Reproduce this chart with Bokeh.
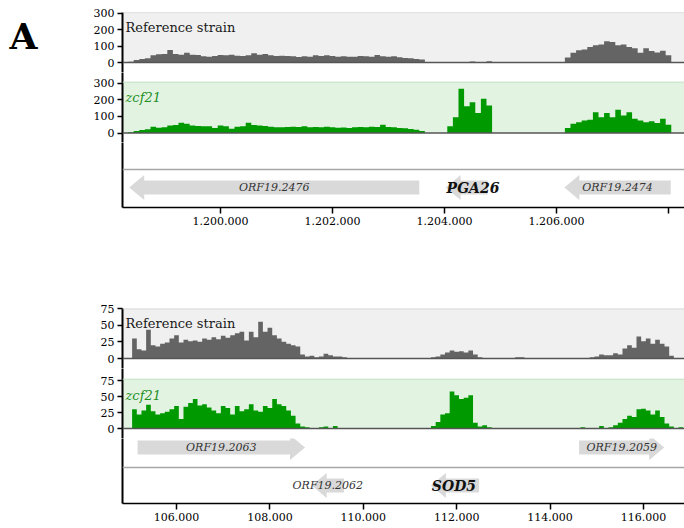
import numpy as np
from bokeh.plotting import figure
from bokeh.layouts import column, row
from bokeh.models import Range1d, BoxAnnotation, Span, Label, FixedTicker, ColumnDataSource
from bokeh.embed import file_html
from bokeh.resources import INLINE
from bokeh.core.properties import value

# ---------------- data: upper locus (PGA26) ----------------
top_bin_start = 1198250
top_bin_width = 100
top_ref = [3, 5, 15, 22, 26, 45, 50, 52, 76, 52, 48, 60, 48, 46, 38, 36, 40, 46, 44, 48,
           42, 40, 44, 56, 48, 52, 44, 40, 42, 40, 38, 34, 38, 36, 44, 40, 45, 40, 36, 38,
           35, 36, 40, 38, 36, 46, 38, 36, 38, 32, 28, 26, 22, 18,
           0, 0, 0, 0, 0, 0, 0, 0, 6, 0, 0, 8, 0, 0, 0, 0, 0, 0, 0, 0, 0, 0, 0, 0, 0,
           30, 60, 75, 80, 95, 105, 110, 130, 125, 105, 110, 95, 88, 60, 88, 70, 62, 72, 45,
           0, 0, 0]
top_zcf = [0, 5, 12, 18, 22, 38, 32, 35, 45, 48, 62, 55, 45, 42, 40, 40, 30, 45, 40, 25,
           38, 40, 62, 48, 45, 42, 38, 35, 34, 36, 38, 36, 40, 34, 36, 35, 38, 34, 32, 33,
           30, 34, 36, 35, 38, 36, 50, 36, 34, 30, 28, 24, 20, 12,
           0, 0, 0, 0,
           40, 95, 265, 160, 185, 120, 205, 165,
           0, 0, 0, 0, 0, 0, 0, 0, 0, 0, 0, 0, 0,
           30, 55, 65, 75, 80, 125, 95, 120, 95, 140, 105, 125, 85, 75, 65, 70, 60, 85, 50,
           0, 0, 0]
top_ticks = [1200000, 1202000, 1204000, 1206000, 1208000]
top_tick_labels = ["1.200.000", "1.202.000", "1.204.000", "1.206.000", ""]
top_gene_names = ["ORF19.2476", "PGA26", "ORF19.2474"]
top_gene_start = [1198370, 1204020, 1206140]
top_gene_end = [1203550, 1204770, 1208040]
top_gene_strand = ["-", "-", "-"]
top_gene_row = [0, 0, 0]

# ---------------- data: lower locus (SOD5) ----------------
bot_bin_start = 104850
bot_bin_width = 100
bot_ref = [0, 0,
           30, 14, 12, 43, 20, 18, 22, 24, 30, 35,
           24, 28, 26, 27, 25, 30, 28, 32, 29, 34,
           31, 35, 38, 40, 27, 40, 32, 55, 40, 46,
           35, 30, 25, 22, 20, 18, 6, 3, 4, 2,
           3, 7, 5, 3, 3,
           2, 0, 0, 0, 0, 0, 0, 0, 0, 0, 0, 0, 0, 0, 0, 0, 0, 0, 0,
           2, 3, 6, 9, 12, 10, 11, 9, 12, 6, 2,
           0, 0, 0, 0, 0, 0, 0,
           2, 2,
           0, 0, 0, 0, 0, 0, 0, 0, 0, 0, 0, 0, 0, 0,
           2, 3, 6, 5, 5, 8, 6, 15, 20, 16, 33, 26, 30, 22, 28, 22, 18, 4,
           0, 0, 0]
bot_zcf = [0, 0,
           30, 22, 28, 37, 27, 22, 24, 26, 30, 35,
           15, 34, 40, 46, 36, 38, 33, 28, 24, 35,
           32, 22, 35, 27, 30, 38, 28, 26, 35, 32,
           46, 38, 35, 28, 20, 8, 3, 2,
           0, 0, 2, 3, 0, 4,
           0, 0, 0, 0, 0, 0, 0, 0, 0, 0, 0, 0, 0, 0, 0, 0, 0, 0, 0, 0,
           4, 10, 22, 24, 58, 52, 46, 48, 52, 9, 3, 5, 2,
           0, 0, 0, 0, 0, 0, 0, 0, 0, 0, 0, 0, 0, 0, 0, 0, 0, 0, 0,
           2, 0, 0, 0, 4, 0, 2,
           5, 9, 15, 20, 18, 30, 31, 28, 22, 28, 18, 8, 3,
           0, 2, 0]
bot_ticks = [106000, 108000, 110000, 112000, 114000, 116000]
bot_tick_labels = ["106.000", "108.000", "110.000", "112.000", "114.000", "116.000"]
bot_gene_names = ["ORF19.2063", "ORF19.2059", "ORF19.2062", "SOD5"]
bot_gene_start = [105167, 114621, 108895, 111447]
bot_gene_end = [108752, 116445, 109585, 112480]
bot_gene_strand = ["+", "+", "-", "-"]
bot_gene_row = [1, 1, 0, 0]

top_cov_ticks = [0, 100, 200, 300]
bot_cov_ticks = [0, 25, 50, 75]
panel_letter = "A"

# ---------------- style ----------------
SERIF = "DejaVu Serif"
LETTER_W = 40
W = 684 - LETTER_W
LEFT = 122 - LETTER_W
FRAME_W = W - LEFT
REF_FILL = "#646464"
ZCF_FILL = "#009900"
REF_BG = "#eff0ef"
ZCF_BG = "#e2f3e2"
REF_BG_LINE = "#c8c8c8"
ZCF_BG_LINE = "#bfe0bf"
GENE_FILL = "#d9d9d9"
ROW_LINE = "#a6a6a6"
HEAD_PX = 15
HEAD_H = 12.5
SHAFT_H = 7
ROW_STEP = 38
ROW_SEP = 18


def base_fig(xr, yr, height, top, bottom, xaxis):
    p = figure(width=W, height=height, x_range=xr, y_range=yr,
               output_backend="svg", toolbar_location=None,
               x_axis_location="below" if xaxis else None,
               min_border_left=LEFT, min_border_right=0,
               min_border_top=top, min_border_bottom=bottom,
               background_fill_color="white", border_fill_color="white")
    p.outline_line_color = None
    p.xgrid.visible = False
    p.ygrid.visible = False
    ya = p.yaxis[0]
    ya.axis_line_color = "black"
    ya.axis_line_width = 2
    ya.major_tick_line_color = "black"
    ya.major_tick_line_width = 1.5
    ya.major_tick_out = 5
    ya.major_tick_in = 0
    ya.minor_tick_out = 0
    ya.minor_tick_in = 0
    ya.major_label_text_font = SERIF
    ya.major_label_text_font_size = "11px"
    ya.major_label_text_color = "black"
    ya.major_label_standoff = 3
    return p


def track(xr, ymin, ymax, height, top, ticks, vals, bin_start, bin_w,
          fill, bg, bg_top, bg_line_at, bg_line, label, label_y, label_color, label_style):
    p = base_fig(xr, Range1d(ymin, ymax), height, top, 0, False)
    p.yaxis[0].ticker = FixedTicker(ticks=ticks)
    p.add_layout(BoxAnnotation(bottom=0, top=bg_top, fill_color=bg, fill_alpha=1,
                               line_color=None, level="underlay"))
    p.add_layout(Span(location=bg_line_at, dimension="width", line_color=bg_line, line_width=1))
    edges = bin_start + bin_w * np.arange(len(vals) + 1)
    y2 = list(vals) + [0]
    p.varea_step(x=edges, y1=np.zeros(len(edges)), y2=y2, step_mode="after",
                 fill_color=fill)
    p.add_layout(Span(location=0, dimension="width", line_color="#555555", line_width=1.5))
    p.add_layout(Label(x=xr.start, y=label_y, x_offset=3, text=label, text_font=SERIF,
                       text_font_size="13px", text_color=label_color,
                       text_font_style=label_style, text_baseline="alphabetic"))
    return p


def gene_fig(xr, ymin, ymax, height, bottom, ticks, tick_labels,
             names, starts, ends, strands, rows, n_rows):
    p = base_fig(xr, Range1d(ymin, ymax), height, 0, bottom, True)
    p.yaxis[0].ticker = FixedTicker(ticks=[])
    xa = p.xaxis[0]
    xa.ticker = FixedTicker(ticks=ticks)
    xa.major_label_overrides = {t: l for t, l in zip(ticks, tick_labels)}
    xa.axis_line_color = "black"
    xa.axis_line_width = 1.5
    xa.major_tick_line_color = "black"
    xa.major_tick_line_width = 1.5
    xa.major_tick_out = 6
    xa.major_tick_in = 0
    xa.minor_tick_out = 0
    xa.minor_tick_in = 0
    xa.major_label_text_font = SERIF
    xa.major_label_text_font_size = "11px"
    xa.major_label_text_color = "black"
    xa.major_label_standoff = 3
    for r in range(n_rows):
        p.add_layout(Span(location=r * ROW_STEP + ROW_SEP, dimension="width",
                          line_color=ROW_LINE, line_width=1.5))
    head_bp = HEAD_PX * (xr.end - xr.start) / FRAME_W
    xs, ys = [], []
    for s, e, st, r in zip(starts, ends, strands, rows):
        yc = r * ROW_STEP
        h = min(head_bp, e - s)
        if st == "-":
            b = s + h
            xs.append([s, b, b, e, e, b, b])
        else:
            b = e - h
            xs.append([e, b, b, s, s, b, b])
        ys.append([yc, yc + HEAD_H, yc + SHAFT_H, yc + SHAFT_H, yc - SHAFT_H, yc - SHAFT_H, yc - HEAD_H])
    p.patches(xs=xs, ys=ys, fill_color=GENE_FILL, line_color=None)
    orf = [i for i, n in enumerate(names) if n.startswith("ORF")]
    named = [i for i, n in enumerate(names) if not n.startswith("ORF")]
    src1 = ColumnDataSource(dict(
        x=[(starts[i] + ends[i]) / 2 for i in orf],
        y=[rows[i] * ROW_STEP for i in orf],
        t=[names[i] for i in orf]))
    p.text(x="x", y="y", text="t", source=src1, text_font=value(SERIF),
           text_font_size="11px", text_font_style="italic", text_color="#333333",
           text_align="center", text_baseline="middle")
    src2 = ColumnDataSource(dict(
        x=[starts[i] for i in named],
        y=[rows[i] * ROW_STEP for i in named],
        t=[names[i] for i in named]))
    p.text(x="x", y="y", text="t", source=src2, text_font=value(SERIF),
           text_font_size="14px", text_font_style="bold italic", text_color="#111111",
           text_align="left", text_baseline="middle", x_offset=1)
    return p


# ---------------- panel letter ----------------
fa = figure(width=LETTER_W, height=72, x_range=Range1d(0, LETTER_W), y_range=Range1d(0, 72),
            output_backend="svg", toolbar_location=None,
            x_axis_location=None, y_axis_location=None,
            min_border_left=0, min_border_right=0, min_border_top=0, min_border_bottom=0,
            background_fill_color="white", border_fill_color="white")
fa.outline_line_color = None
fa.xgrid.visible = False
fa.ygrid.visible = False
fa.text(x=[9], y=[37], text=[panel_letter], text_font=value(SERIF), text_font_size="36px",
        text_font_style="bold", text_color="black", text_align="left",
        text_baseline="alphabetic")

# ---------------- upper locus ----------------
top_xr = Range1d(1198250, 1208286)
f1 = track(top_xr, -61, 306, 72, 12, top_cov_ticks, top_ref, top_bin_start, top_bin_width,
           REF_FILL, REF_BG, 306, 305.5, REF_BG_LINE, "Reference strain", 214, "#1a1a1a", "normal")
f2 = track(top_xr, -57, 363, 70, 0, top_cov_ticks, top_zcf, top_bin_start, top_bin_width,
           ZCF_FILL, ZCF_BG, 305, 305, ZCF_BG_LINE, "zcf21", 216, "#1f8f1f", "italic")
f3 = gene_fig(top_xr, -20, 45, 160, 95, top_ticks, top_tick_labels,
              top_gene_names, top_gene_start, top_gene_end, top_gene_strand, top_gene_row, 1)

# ---------------- lower locus ----------------
bot_xr = Range1d(104844, 116878)
f4 = track(bot_xr, -15, 75, 66, 6, bot_cov_ticks, bot_ref, bot_bin_start, bot_bin_width,
           REF_FILL, REF_BG, 75, 74.6, REF_BG_LINE, "Reference strain", 52, "#1a1a1a", "normal")
f5 = track(bot_xr, -15.625, 93.75, 70, 0, bot_cov_ticks, bot_zcf, bot_bin_start, bot_bin_width,
           ZCF_FILL, ZCF_BG, 77, 77, ZCF_BG_LINE, "zcf21", 51.6, "#1f8f1f", "italic")
f6 = gene_fig(bot_xr, -18, 47, 90, 25, bot_ticks, bot_tick_labels,
              bot_gene_names, bot_gene_start, bot_gene_end, bot_gene_strand, bot_gene_row, 2)

fig_col = column(f1, f2, f3, f4, f5, f6, spacing=0)
spacer_col = column(fa, spacing=0)
layout = row(spacer_col, fig_col, spacing=0)
open("out.html", "w").write(file_html(layout, INLINE))
